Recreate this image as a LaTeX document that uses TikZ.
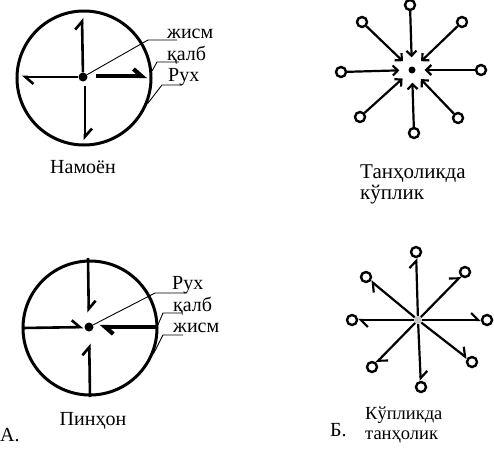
\documentclass[tikz,border=0pt]{standalone}
\usepackage{fontspec}
\setmainfont{Liberation Serif}
\usetikzlibrary{arrows.meta}

\tikzset{
  ring/.style={circle, draw, line width=3pt, minimum size=134pt, inner sep=0pt},
  core/.style={circle, fill, inner sep=0pt, minimum size=9pt},
  ray/.style={line width=2.6pt, -{Straight Barb[harpoon, length=8pt, width=14pt]}},
  lbl/.style={font=\fontsize{20}{22}\selectfont, inner sep=0pt},
  lead/.style={line width=0.9pt},
  capt/.style={font=\fontsize{20}{22}\selectfont, align=left, inner sep=0pt},
  bead/.style={circle, draw, line width=2.4pt, inner sep=0pt, minimum size=10pt},
  inray/.style={line width=2.2pt, shorten >=9pt, -{Straight Barb[length=5pt, width=10pt]}},
  outray/.style={line width=2.2pt, -{Straight Barb[harpoon, length=7pt, width=14pt]}},
}

\begin{document}
\begin{tikzpicture}[x=1pt, y=-1pt]
  \useasboundingbox (0,0) rectangle (494,453);

  % Намоён
  \node[ring] (ring1) at (84,78) {};
  \node[core] (dot1) at (83,77) {};
  \coordinate (n1) at (82,18);
  \coordinate (w1) at (22,77);
  \coordinate (e1a) at (96,76);
  \coordinate (e1b) at (147,76);
  \coordinate (s1a) at (85,86);
  \coordinate (s1b) at (85,140);
  \draw[ray] (dot1) -- (n1);
  \draw[ray] (dot1) -- (w1);
  \draw[ray, line width=4.2pt] (e1a) -- (e1b);
  \draw[ray] (s1a) -- (s1b);

  \node[lbl, anchor=base west] (zh1) at (167,38) {жисм};
  \node[lbl, anchor=base west] (ka1) at (167,60) {қалб};
  \node[lbl, anchor=base west] (ru1) at (168,81) {Рух};
  \draw[lead] ([xshift=10pt,yshift=-2pt]zh1.base west) -- ++(-29,0) -- (dot1);
  \draw[lead] ([xshift=12pt,yshift=-2pt]ka1.base west) -- ++(-22,0) -- (ring1.6);
  \draw[lead] ([xshift=14pt,yshift=-4pt]ru1.base west) -- ++(-20,0) -- (ring1.-22);

  \node[capt] (nam) at (83,167) {Намоён};

  % Пинҳон
  \node[ring] (ring2) at (90,328) {};
  \node[core] (dot2) at (89,327) {};
  \coordinate (n2) at (88,258);
  \coordinate (w2) at (22,328);
  \coordinate (e2) at (157,327);
  \coordinate (s2) at (90,397);
  \draw[ray, shorten >=10pt] (n2) -- (dot2);
  \draw[ray, shorten >=1pt] (w2) -- (dot2);
  \draw[ray, line width=4.2pt, shorten >=6pt] (e2) -- (dot2);
  \draw[ray, shorten >=12pt] (s2) -- (dot2);

  \node[lbl, anchor=base west] (ru2) at (172,289) {Рух};
  \node[lbl, anchor=base west] (ka2) at (173,311) {қалб};
  \node[lbl, anchor=base west] (zh2) at (173,332) {жисм};
  \draw[lead] ([xshift=15pt,yshift=-4pt]ru2.base west) -- ++(-32,0) -- (dot2);
  \draw[lead] ([xshift=8pt,yshift=-2pt]ka2.base west) -- ++(-18,0) -- (e2);
  \draw[lead] ([xshift=10pt,yshift=-3pt]zh2.base west) -- ++(-20,0) -- (ring2.-22);

  \node[capt] (pin) at (93,421) {Пинҳон};
  \node[capt, anchor=base west] (A) at (0,441) {А.};

  % Танҳоликда кўплик
  \node[core, minimum size=7pt] (c1) at (412,70) {};
  \foreach \x/\y/\n in {410/5/a, 462/22/b, 481/70/c, 458/118/d,
                        414/133/e, 360/117/f, 341/72/g, 362/22/h} {
    \node[bead] (p\n) at (\x,\y) {};
    \draw[inray] (p\n) -- (c1);
  }
  \node[capt, font=\fontsize{21}{21}\selectfont, anchor=base west] (tk) at (360,199) {Танҳоликда\\кўплик};

  % Кўпликда танҳолик
  \node[core, minimum size=8pt, fill=gray!45] (c2) at (418,320) {};
  \foreach \x/\y/\n in {416/252/a, 465/272/b, 487/320/c, 472/362/d,
                        421/387/e, 372/367/f, 352/320/g, 366/277/h} {
    \node[bead] (q\n) at (\x,\y) {};
    \draw[outray] (c2) -- (q\n);
  }
  \node[capt, font=\fontsize{18.5}{20}\selectfont, anchor=base west] (kt) at (365,439) {Кўпликда\\танҳолик};
  \node[capt, anchor=base west] (B) at (330,436) {Б.};
\end{tikzpicture}
\end{document}
